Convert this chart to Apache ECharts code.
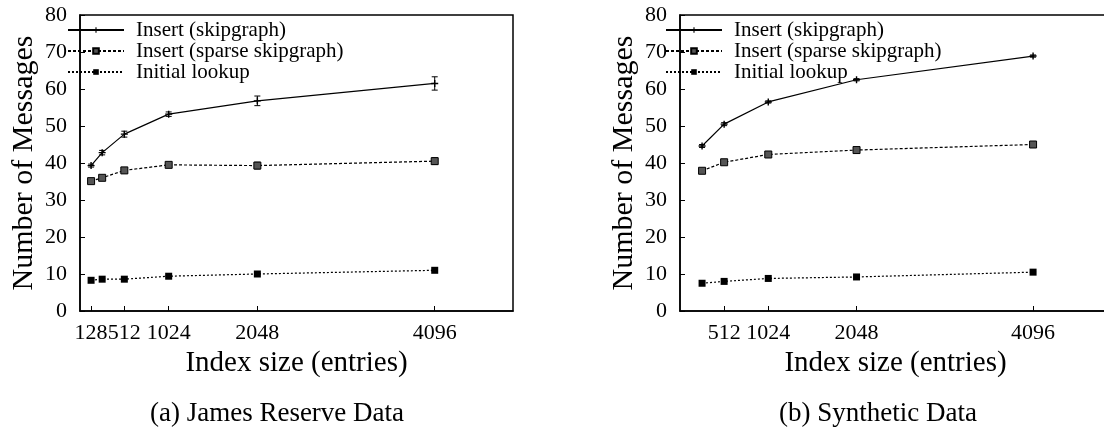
<!DOCTYPE html>
<html>
<head>
<meta charset="utf-8">
<script src="https://cdn.jsdelivr.net/npm/echarts@6/dist/echarts.min.js"></script>
<style>
html,body{margin:0;padding:0;overflow:hidden;background:#fff;}
#c{width:1120px;height:428px;}
</style>
</head>
<body>
<div id="c"></div>
<script>
// ---- data ----
const seriesNames = ['Insert (skipgraph)', 'Insert (sparse skipgraph)', 'Initial lookup'];
const yTicks = [0, 10, 20, 30, 40, 50, 60, 70, 80];

// (a) James Reserve Data
const xLeft = [128, 256, 512, 1024, 2048, 4096];
const xLeftTicks = [128, 512, 1024, 2048, 4096];
const leftInsert = [39.3, 42.8, 47.8, 53.2, 56.8, 61.5];
const leftInsertErr = [0.4, 0.6, 0.8, 0.6, 1.3, 1.8];
const leftSparse = [35.1, 36.0, 38.0, 39.5, 39.3, 40.5];
const leftSparseErr = [0.6, 0.6, 0.7, 0.5, 0.9, 0.9];
const leftLookup = [8.3, 8.6, 8.6, 9.4, 10.0, 11.0];
const leftLookupErr = [0.2, 0.2, 0.2, 0.2, 0.2, 0.3];

// (b) Synthetic Data
const xRight = [256, 512, 1024, 2048, 4096];
const xRightTicks = [512, 1024, 2048, 4096];
const rightInsert = [44.6, 50.5, 56.5, 62.5, 68.9];
const rightInsertErr = [0.4, 0.4, 0.3, 0.3, 0.3];
const rightSparse = [37.9, 40.2, 42.3, 43.5, 45.0];
const rightSparseErr = [0.4, 0.3, 0.3, 0.3, 0.3];
const rightLookup = [7.5, 8.0, 8.8, 9.2, 10.5];
const rightLookupErr = [0.2, 0.2, 0.2, 0.2, 0.2];

const captions = ['(a) James Reserve Data', '(b) Synthetic Data'];
const xTitle = 'Index size (entries)';
const yTitle = 'Number of Messages';

// ---- build ----
const FONT = "'Liberation Serif','Times New Roman',serif";
const pair = (xs, ys) => xs.map((x, i) => [x, ys[i]]);
const errData = (xs, ys, es) => xs.map((x, i) => [x, ys[i] - es[i], ys[i] + es[i]]);

function errRender(params, api) {
  const x = api.value(0);
  const p1 = api.coord([x, api.value(1)]);
  const p2 = api.coord([x, api.value(2)]);
  const w = 3;
  const st = { stroke: '#000', lineWidth: 1 };
  return { type: 'group', children: [
    { type: 'line', shape: { x1: p1[0], y1: p1[1], x2: p2[0], y2: p2[1] }, style: st },
    { type: 'line', shape: { x1: p1[0] - w, y1: p1[1], x2: p1[0] + w, y2: p1[1] }, style: st },
    { type: 'line', shape: { x1: p2[0] - w, y1: p2[1], x2: p2[0] + w, y2: p2[1] }, style: st }
  ]};
}

const plusPath = 'path://M4,0H6V4H10V6H6V10H4V6H0V4H4Z';
const styles = [
  { symbol: plusPath, symbolSize: 7, lineStyle: { color: '#000', width: 1.2, type: 'solid' }, itemStyle: { color: '#000' } },
  { symbol: 'rect', symbolSize: 7, lineStyle: { color: '#000', width: 1.2, type: [3, 2] }, itemStyle: { color: '#555', borderColor: '#000', borderWidth: 1 } },
  { symbol: 'rect', symbolSize: 7, lineStyle: { color: '#000', width: 1.2, type: [2, 2] }, itemStyle: { color: '#000' } }
];

function lineSeries(idx, xs, ys, gi) {
  return Object.assign({
    type: 'line', name: seriesNames[idx], xAxisIndex: gi, yAxisIndex: gi,
    data: pair(xs, ys), showSymbol: true, animation: false, z: 3
  }, styles[idx]);
}
function errSeries(xs, ys, es, gi) {
  return { type: 'custom', name: 'err' + gi, xAxisIndex: gi, yAxisIndex: gi,
    data: errData(xs, ys, es), renderItem: errRender, encode: { x: 0, y: [1, 2] },
    animation: false, z: 2, silent: true };
}

const grids = [
  { left: 80, top: 15, width: 433, height: 296 },
  { left: 680, top: 15, width: 431, height: 296 }
];

function xAxis(gi, ticks) {
  return {
    type: 'value', gridIndex: gi, min: 0, max: 5000,
    name: xTitle, nameLocation: 'middle', nameGap: 36,
    nameTextStyle: { fontFamily: FONT, fontSize: 29, color: '#000' },
    axisLine: { show: true, lineStyle: { color: '#000', width: 1.5 } },
    axisTick: { show: true, inside: true, length: 5, customValues: ticks, lineStyle: { color: '#000' } },
    axisLabel: { customValues: ticks, fontFamily: FONT, fontSize: 22, color: '#000', margin: 11,
      formatter: v => String(v) },
    splitLine: { show: false }
  };
}
function yAxis(gi) {
  return {
    type: 'value', gridIndex: gi, min: 0, max: 80, interval: 10,
    name: yTitle, nameLocation: 'middle', nameGap: 41,
    nameTextStyle: { fontFamily: FONT, fontSize: 30, color: '#000' },
    axisLine: { show: true, lineStyle: { color: '#000', width: 1.5 } },
    axisTick: { show: true, inside: true, length: 5, lineStyle: { color: '#000' } },
    axisLabel: { fontFamily: FONT, fontSize: 22, color: '#000', margin: 13,
      formatter: v => (yTicks.indexOf(v) >= 0 ? String(v) : '') },
    splitLine: { show: false }
  };
}

function legend(left) {
  return {
    data: seriesNames, orient: 'vertical', left: left, top: 19.5, padding: 0,
    itemWidth: 56, itemHeight: 7, itemGap: 0, selectedMode: false,
    textStyle: { fontFamily: FONT, fontSize: 21, color: '#000', lineHeight: 21, padding: [0, 0, 0, 7] }
  };
}

const option = {
  backgroundColor: '#fff',
  animation: false,
  title: [
    { text: captions[0], left: 277, top: 400, textAlign: 'center', padding: 0,
      textStyle: { fontFamily: FONT, fontSize: 27, fontWeight: 'normal', color: '#000' } },
    { text: captions[1], left: 878, top: 400, textAlign: 'center', padding: 0,
      textStyle: { fontFamily: FONT, fontSize: 27, fontWeight: 'normal', color: '#000' } }
  ],
  legend: [legend(67), legend(665)],
  grid: grids.map(g => Object.assign({ show: true, borderColor: '#000', borderWidth: 1.5, backgroundColor: 'transparent' }, g)),
  xAxis: [xAxis(0, xLeftTicks), xAxis(1, xRightTicks)],
  yAxis: [yAxis(0), yAxis(1)],
  series: [
    errSeries(xLeft, leftInsert, leftInsertErr, 0),
    errSeries(xLeft, leftSparse, leftSparseErr, 0),
    errSeries(xLeft, leftLookup, leftLookupErr, 0),
    lineSeries(0, xLeft, leftInsert, 0),
    lineSeries(1, xLeft, leftSparse, 0),
    lineSeries(2, xLeft, leftLookup, 0),
    errSeries(xRight, rightInsert, rightInsertErr, 1),
    errSeries(xRight, rightSparse, rightSparseErr, 1),
    errSeries(xRight, rightLookup, rightLookupErr, 1),
    lineSeries(0, xRight, rightInsert, 1),
    lineSeries(1, xRight, rightSparse, 1),
    lineSeries(2, xRight, rightLookup, 1)
  ]
};

const chart = echarts.init(document.getElementById('c'), null, { renderer: 'canvas' });
chart.setOption(option);
</script>
</body>
</html>
